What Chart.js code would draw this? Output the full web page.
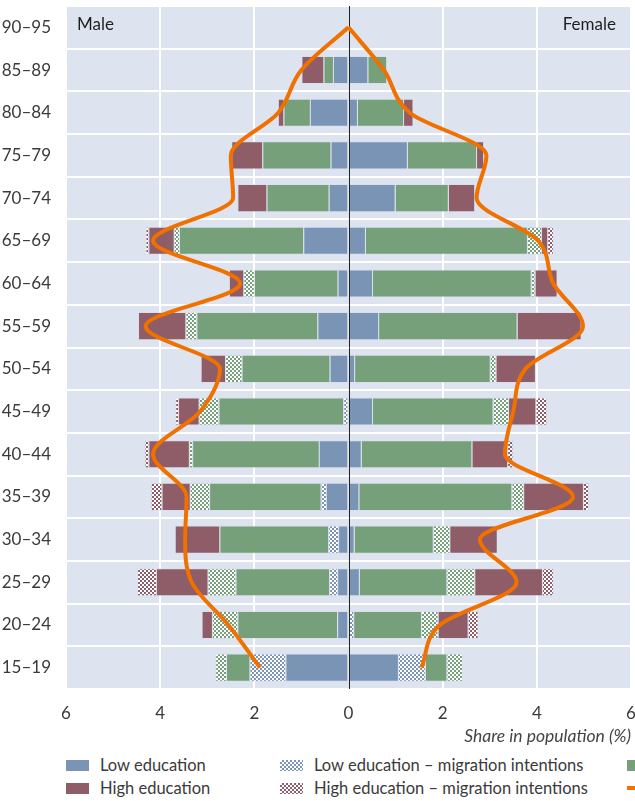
<!DOCTYPE html>
<html>
<head>
<meta charset="utf-8">
<script src="https://cdn.jsdelivr.net/npm/chart.js@4.4.1/dist/chart.umd.min.js"></script>
<style>
  html, body { margin: 0; padding: 0; background: #fff; overflow: hidden; }
  body { width: 635px; height: 801px; position: relative; font-family: Lato, "Open Sans", sans-serif; color: #333; }
  #wrap { position: absolute; left: 0; top: 0; width: 635px; height: 750px; }
  .side { position: absolute; top: 14px; font-size: 17px; line-height: 20px; color: #1e1e1e; }
  .leg { position: absolute; font-size: 16.5px; line-height: 20px; color: #3a3a3a; white-space: nowrap; padding-left: 34px; }
  .leg .sw { position: absolute; left: 0; top: 5px; width: 23px; height: 11px; }
  .leg .ln { position: absolute; left: 0; top: 8px; width: 23px; height: 4px; background: #f07000; }
</style>
</head>
<body>
<div id="wrap"><canvas id="pyramid" width="635" height="750"></canvas></div>
<div class="side" style="left:77px">Male</div>
<div class="side" style="right:19px">Female</div>

<div class="leg" style="left:66px;top:755px"><span class="sw" style="background:#7a94b6"></span>Low education</div>
<div class="leg" style="left:66px;top:778px"><span class="sw" style="background:#8f5d67"></span>High education</div>
<div class="leg" style="left:280px;top:755px"><span class="sw" style="background:repeating-conic-gradient(#7a94b6 0 25%, #fff 0 50%) 0 0/4px 4px"></span>Low education – migration intentions</div>
<div class="leg" style="left:280px;top:778px"><span class="sw" style="background:repeating-conic-gradient(#8f5d67 0 25%, #fff 0 50%) 0 0/4px 4px"></span>High education – migration intentions</div>
<div class="leg" style="left:627px;top:755px"><span class="sw" style="background:#75a07a"></span>Medium education</div>
<div class="leg" style="left:627px;top:778px"><span class="ln"></span>Population</div>

<script>
// age groups, top to bottom
const ageGroups = ['90–95','85–89','80–84','75–79','70–74','65–69','60–64','55–59','50–54','45–49','40–44','35–39','30–34','25–29','20–24','15–19'];

// male shares (%), drawn to the left
const maleLow     = [null,0.33,0.82,0.38,0.42,0.96,0.23,0.66,0.40,null,0.63,0.48,0.22,0.24,0.24,1.34];
const maleLowMig  = [null,null,null,null,null,null,null,null,null,0.11,null,0.11,0.21,0.17,null,0.76];
const maleMed     = [null,0.20,0.56,1.45,1.32,2.64,1.78,2.57,1.87,2.65,2.69,2.37,2.31,1.99,2.12,0.50];
const maleMedMig  = [null,null,null,null,null,0.11,0.22,0.23,0.35,0.42,0.07,0.41,null,0.59,0.54,0.23];
const maleHigh    = [null,0.47,0.12,0.66,0.62,0.54,0.31,1.01,0.52,0.44,0.86,0.60,0.95,1.10,0.22,null];
const maleHighMig = [null,null,null,null,null,0.06,null,null,null,0.06,0.08,0.23,null,0.40,null,null];

// female shares (%), drawn to the right
const femLow     = [null,0.42,0.20,1.26,1.00,0.37,0.52,0.65,0.14,0.52,0.28,0.23,0.13,0.24,null,1.07];
const femLowMig  = [null,null,null,null,null,null,null,null,null,null,null,null,null,null,0.12,0.57];
const femMed     = [null,0.40,0.98,1.47,1.13,3.44,3.37,2.94,2.88,2.56,2.35,3.25,1.68,1.86,1.44,0.46];
const femMedMig  = [null,null,null,null,null,0.30,0.08,null,0.12,0.33,null,0.25,0.35,0.59,0.35,0.33];
const femHigh    = [null,null,0.20,0.15,0.56,0.13,0.47,1.36,0.84,0.58,0.76,1.27,1.01,1.44,0.64,null];
const femHighMig = [null,null,null,null,null,0.12,null,null,null,0.23,0.11,0.11,null,0.23,0.21,null];

// total population profile (orange curve)
const popMale   = [0,1.00,1.49,2.50,2.45,4.15,2.30,4.31,2.73,3.15,4.15,3.44,3.47,3.33,2.55,1.88];
const popFemale = [0,0.75,1.30,2.93,2.72,4.03,4.35,4.98,3.76,3.50,3.32,4.77,2.79,3.57,1.94,1.55];

const BLUE = '#7a94b6', RED = '#8f5d67', GREEN = '#75a07a', ORANGE = '#f07000';

function checker(color) {
  const c = document.createElement('canvas');
  c.width = 4; c.height = 4;
  const g = c.getContext('2d');
  g.fillStyle = '#ffffff'; g.fillRect(0, 0, 4, 4);
  g.fillStyle = color; g.fillRect(0, 0, 2, 2); g.fillRect(2, 2, 2, 2);
  return g.createPattern(c, 'repeat');
}

const neg = arr => arr.map(v => v == null ? null : -v);

function bar(label, data, fill) {
  return {
    type: 'bar', label, data, backgroundColor: fill,
    borderColor: 'rgba(215,220,232,0.55)', borderWidth: 1,
    barPercentage: 0.66, categoryPercentage: 1, order: 1
  };
}

function curve(label, values, sign, stack) {
  return {
    type: 'line', label, indexAxis: 'y', stack,
    data: ageGroups.map((g, i) => ({ x: sign * values[i], y: g })),
    borderColor: ORANGE, borderWidth: 4, pointRadius: 0,
    fill: false, cubicInterpolationMode: 'monotone', order: 0
  };
}

const plotBg = {
  id: 'plotBg',
  beforeDraw(chart) {
    const { ctx, chartArea: a } = chart;
    ctx.save();
    ctx.fillStyle = '#dde3ef';
    ctx.fillRect(a.left, a.top, a.right - a.left, a.bottom - a.top);
    ctx.restore();
  }
};

// black zero line over the bars, under the curve
const zeroLine = {
  id: 'zeroLine',
  beforeDatasetsDraw(chart) { chart.$zeroDone = false; },
  beforeDatasetDraw(chart, args) {
    if (args.meta.type !== 'line' || chart.$zeroDone) return;
    chart.$zeroDone = true;
    const { ctx, chartArea: a } = chart;
    const x = Math.round(chart.scales.x.getPixelForValue(0)) + 0.5;
    ctx.save();
    ctx.strokeStyle = '#222';
    ctx.lineWidth = 1;
    ctx.beginPath(); ctx.moveTo(x, a.top); ctx.lineTo(x, a.bottom); ctx.stroke();
    ctx.restore();
  }
};

new Chart(document.getElementById('pyramid'), {
  data: {
    labels: ageGroups,
    datasets: [
      bar('Low education', neg(maleLow), BLUE),
      bar('Low education – migration intentions', neg(maleLowMig), checker(BLUE)),
      bar('Medium education', neg(maleMed), GREEN),
      bar('Medium education – migration intentions', neg(maleMedMig), checker(GREEN)),
      bar('High education', neg(maleHigh), RED),
      bar('High education – migration intentions', neg(maleHighMig), checker(RED)),
      bar('Low education', femLow, BLUE),
      bar('Low education – migration intentions', femLowMig, checker(BLUE)),
      bar('Medium education', femMed, GREEN),
      bar('Medium education – migration intentions', femMedMig, checker(GREEN)),
      bar('High education', femHigh, RED),
      bar('High education – migration intentions', femHighMig, checker(RED)),
      curve('Population (male)', popMale, -1, 'popM'),
      curve('Population (female)', popFemale, 1, 'popF')
    ]
  },
  options: {
    responsive: false,
    animation: false,
    indexAxis: 'y',
    layout: { padding: { top: 6, right: 4, left: 0, bottom: 0 } },
    plugins: { legend: { display: false }, tooltip: { enabled: false } },
    scales: {
      x: {
        type: 'linear', min: -6, max: 6, stacked: true,
        border: { display: false },
        grid: {
          color: c => (c.tick && c.tick.value === 0) ? 'rgba(0,0,0,0)' : '#ffffff',
          lineWidth: 2, drawTicks: false
        },
        ticks: {
          stepSize: 2, padding: 14, color: '#3a3a3a',
          font: { family: 'Lato', size: 17 },
          callback: v => Math.abs(v)
        },
        title: {
          display: true, text: 'Share in population (%)', align: 'end', color: '#444',
          font: { family: 'Lato', size: 17.5, style: 'italic' },
          padding: { top: 0, bottom: 3 }
        },
        afterFit: s => { s.height = 61; s.paddingLeft = 0; s.paddingRight = 0; }
      },
      y: {
        type: 'category', stacked: true,
        border: { display: false },
        grid: { offset: true, color: '#ffffff', lineWidth: 2, drawTicks: false },
        ticks: { padding: 15, color: '#3a3a3a', font: { family: 'Lato', size: 17 } },
        afterFit: s => { s.width = 66; s.paddingTop = 0; s.paddingBottom = 0; }
      }
    }
  },
  plugins: [plotBg, zeroLine]
});
</script>
</body>
</html>
